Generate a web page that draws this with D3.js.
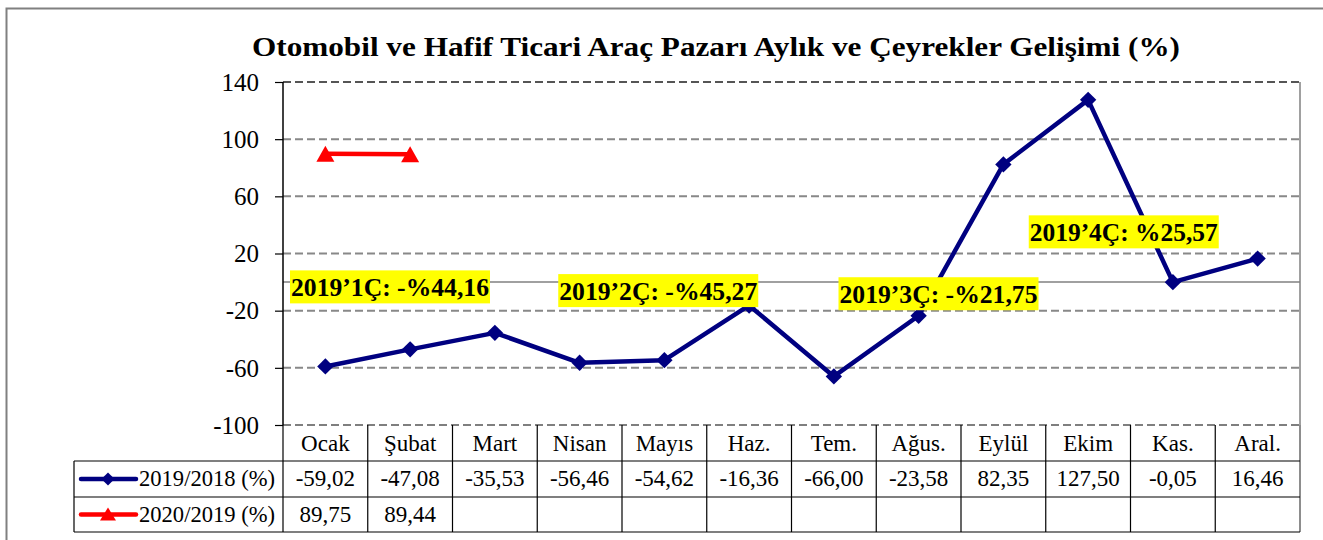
<!DOCTYPE html>
<html>
<head>
<meta charset="utf-8">
<script src="https://cdn.jsdelivr.net/npm/d3@7"></script>
<style>
  body { margin: 0; background: #fff; }
  text { font-family: 'Liberation Serif', 'DejaVu Serif', serif; }
</style>
</head>
<body>
<script>
const months = ['Ocak', 'Şubat', 'Mart', 'Nisan', 'Mayıs', 'Haz.', 'Tem.', 'Ağus.', 'Eylül', 'Ekim', 'Kas.', 'Aral.']
const s2019 = [-59.02, -47.08, -35.53, -56.46, -54.62, -16.36, -66.00, -23.58, 82.35, 127.50, -0.05, 16.46]
const s2020 = [89.75, 89.44]
const yTicks = [140, 100, 60, 20, -20, -60, -100]
const seriesNames = ['2019/2018 (%)', '2020/2019 (%)']
// quarter notes: text, anchor month, baseline value
const notes = [
    {text: '2019’1Ç: -%44,16', month: 'Ocak', value: -10},
    {text: '2019’2Ç: -%45,27', month: 'Nisan', value: -12.6},
    {text: '2019’3Ç: -%21,75', month: 'Tem.', value: -14.8},
    {text: '2019’4Ç: %25,57', month: 'Ekim', value: 28.5}
]
// horizontal shift of each note from the start of its month band (px)
const noteShift = [8, 22, 48, -16]

const width = 1323
const height = 540
const fmt = v => v.toFixed(2).replace('.', ',')

const svg = d3.select('body')
    .append('svg')
    .attr('width', width)
    .attr('height', height)

// outer frame
svg.append('rect')
    .attr('x', 6.5).attr('y', 8.5)
    .attr('width', 1400).attr('height', 600)
    .attr('fill', 'none')
    .attr('stroke', '#808080')
    .attr('stroke-width', 2)

svg.append('text')
    .attr('x', 252).attr('y', 56)
    .attr('font-size', 28)
    .attr('font-weight', 'bold')
    .attr('textLength', 928)
    .attr('lengthAdjust', 'spacingAndGlyphs')
    .text('Otomobil ve Hafif Ticari Araç Pazarı Aylık ve Çeyrekler Gelişimi (%)')

const x = d3.scaleBand().domain(months).range([283, 1300])
const y = d3.scaleLinear().domain([-100, 140]).range([425, 82])
const cx = m => x(m) + x.bandwidth() / 2

// grid
svg.append('g')
    .selectAll('line')
    .data(yTicks)
    .join('line')
    .attr('x1', 283).attr('x2', 1300)
    .attr('y1', d => y(d)).attr('y2', d => y(d))
    .attr('stroke', (d, i) => i === 0 || i === yTicks.length - 1 ? '#555' : '#888')
    .attr('stroke-width', (d, i) => i === yTicks.length - 1 ? 1.5 : 2)
    .attr('stroke-dasharray', '8,4')

// zero line
svg.append('line')
    .attr('x1', 283).attr('x2', 1300)
    .attr('y1', y(0)).attr('y2', y(0))
    .attr('stroke', '#808080')
    .attr('stroke-width', 1.5)

// y axis
const yAxis = d3.axisLeft(y)
    .tickValues(yTicks)
    .tickFormat(d => String(d))
    .tickSize(8)
    .tickPadding(16)
const ga = svg.append('g')
    .attr('transform', 'translate(283,0)')
    .call(yAxis)
ga.select('.domain').remove()
ga.selectAll('.tick line').attr('stroke', '#000').attr('stroke-width', 1.2)
ga.selectAll('.tick text')
    .attr('font-family', "'Liberation Serif', serif")
    .attr('font-size', 25)
    .attr('fill', '#000')
    .attr('dy', '0.33em')

svg.append('line')
    .attr('x1', 283).attr('x2', 283)
    .attr('y1', 82).attr('y2', 425)
    .attr('stroke', '#000').attr('stroke-width', 1.5)
svg.append('line')
    .attr('x1', 1300).attr('x2', 1300)
    .attr('y1', 82).attr('y2', 532)
    .attr('stroke', '#808080').attr('stroke-width', 1.5)

// series lines
const line = d3.line()
    .x((d, i) => cx(months[i]))
    .y(d => y(d))

svg.append('path')
    .datum(s2019)
    .attr('d', line)
    .attr('fill', 'none')
    .attr('stroke', '#000080')
    .attr('stroke-width', 4.5)
    .attr('stroke-linejoin', 'round')

svg.append('g')
    .selectAll('path')
    .data(s2019)
    .join('path')
    .attr('d', d3.symbol(d3.symbolDiamond2, 170))
    .attr('transform', (d, i) => `translate(${cx(months[i])},${y(d)})`)
    .attr('fill', '#000080')

svg.append('path')
    .datum(s2020)
    .attr('d', line)
    .attr('fill', 'none')
    .attr('stroke', '#ff0000')
    .attr('stroke-width', 4.5)

svg.append('g')
    .selectAll('path')
    .data(s2020)
    .join('path')
    .attr('d', 'M0,-8L9,8L-9,8Z')
    .attr('transform', (d, i) => `translate(${cx(months[i])},${y(d)})`)
    .attr('fill', '#ff0000')

// quarter notes
const ng = svg.append('g')
notes.forEach((n, i) => {
    const g = ng.append('g')
    const bg = g.append('rect').attr('fill', '#ffff00')
    const t = g.append('text')
        .attr('x', x(n.month) + noteShift[i])
        .attr('y', y(n.value))
        .attr('font-size', 26)
        .attr('font-weight', 'bold')
        .attr('textLength', i === 3 ? 188 : 198)
        .attr('lengthAdjust', 'spacingAndGlyphs')
        .text(n.text)
    const b = t.node().getBBox()
    bg.attr('x', b.x - 1).attr('y', y(n.value) - 26)
        .attr('width', b.width + 2).attr('height', 33)
})

// data table
const rowTop = [425, 461, 497, 532]
const cols = months.map(m => x(m)).concat([1300])
const tg = svg.append('g')

// header row
months.forEach(m => {
    tg.append('text')
        .attr('x', cx(m)).attr('y', 451)
        .attr('text-anchor', 'middle')
        .attr('font-size', 23)
        .text(m)
})

const rows = [s2019, s2020]
rows.forEach((vals, r) => {
    const ty = (rowTop[r + 1] + rowTop[r + 2]) / 2 + 7
    vals.forEach((v, i) => {
        tg.append('text')
            .attr('x', cx(months[i])).attr('y', ty)
            .attr('text-anchor', 'middle')
            .attr('font-size', 23)
            .text(fmt(v))
    })
    tg.append('text')
        .attr('x', 139).attr('y', ty)
        .attr('font-size', 23)
        .attr('textLength', 136)
        .attr('lengthAdjust', 'spacingAndGlyphs')
        .text(seriesNames[r])
})

// legend keys in table
const ky1 = (rowTop[1] + rowTop[2]) / 2
const ky2 = (rowTop[2] + rowTop[3]) / 2
tg.append('line').attr('x1', 81).attr('x2', 136).attr('y1', ky1).attr('y2', ky1)
    .attr('stroke', '#000080').attr('stroke-width', 4.5).attr('stroke-linecap', 'round')
tg.append('path').attr('d', d3.symbol(d3.symbolDiamond2, 110))
    .attr('transform', `translate(108,${ky1})`).attr('fill', '#000080')
tg.append('line').attr('x1', 81).attr('x2', 136).attr('y1', ky2).attr('y2', ky2)
    .attr('stroke', '#ff0000').attr('stroke-width', 4.5).attr('stroke-linecap', 'round')
tg.append('path').attr('d', 'M0,-7L8,6L-8,6Z')
    .attr('transform', `translate(108,${ky2})`).attr('fill', '#ff0000')

// table grid lines
cols.forEach(cxv => {
    tg.append('line')
        .attr('x1', cxv).attr('x2', cxv)
        .attr('y1', 425).attr('y2', 532)
        .attr('stroke', cxv === 1300 ? '#808080' : '#000')
        .attr('stroke-width', 1.2)
})
tg.append('line').attr('x1', 74).attr('x2', 74).attr('y1', 461).attr('y2', 532)
    .attr('stroke', '#000').attr('stroke-width', 1.2)
;[461, 497, 532].forEach(ly => {
    tg.append('line')
        .attr('x1', 74).attr('x2', 1300)
        .attr('y1', ly).attr('y2', ly)
        .attr('stroke', '#000').attr('stroke-width', 1.2)
})
</script>
</body>
</html>
